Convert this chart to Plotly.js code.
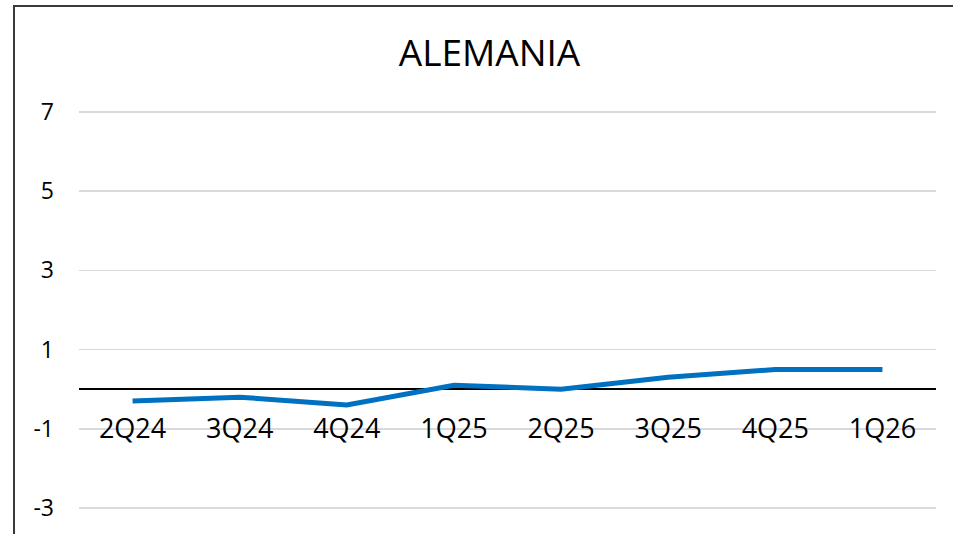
<!DOCTYPE html>
<html>
<head>
<meta charset="utf-8">
<script src="https://cdn.plot.ly/plotly-3.0.1.min.js"></script>
<style>
  html, body { margin: 0; padding: 0; background: #fff; }
  #chart { width: 953px; height: 534px; }
</style>
</head>
<body>
<div id="chart"></div>
<script>
// Data
const quarters = ['2Q24', '3Q24', '4Q24', '1Q25', '2Q25', '3Q25', '4Q25', '1Q26'];
const values = [-0.3, -0.2, -0.4, 0.1, 0.0, 0.3, 0.5, 0.5];
const yTicks = [-3, -1, 1, 3, 5, 7];
const chartTitle = 'ALEMANIA';

const W = 953, H = 534;
const M = { l: 79, r: 17, t: 108, b: 22 };
const yRange = [-3.1, 7.1];
const plotW = W - M.l - M.r, plotH = H - M.t - M.b;
const px2x = p => (p - M.l) / plotW;
const px2y = p => (H - M.b - p) / plotH;

const font = 'Open Sans, Noto Sans, sans-serif';

const trace = {
  x: quarters,
  y: values,
  type: 'scatter',
  mode: 'lines',
  line: { color: '#0070C0', width: 5 },
  hoverinfo: 'skip'
};

const layout = {
  width: W, height: H,
  margin: M,
  paper_bgcolor: '#fff',
  plot_bgcolor: '#fff',
  showlegend: false,
  title: {
    text: chartTitle,
    font: { family: font, size: 37, color: '#000' },
    xref: 'container', x: 489.5 / W, xanchor: 'center',
    yref: 'container', y: 1 - 53 / H, yanchor: 'middle'
  },
  xaxis: {
    type: 'category',
    anchor: 'free',
    position: (0 - yRange[0]) / (yRange[1] - yRange[0]),
    range: [-0.5, quarters.length - 0.5],
    showgrid: false, zeroline: false, showline: false,
    ticks: '',
    ticklabelstandoff: 21,
    tickfont: { family: font, size: 27, color: '#000' },
    fixedrange: true
  },
  yaxis: {
    range: yRange,
    tickmode: 'array',
    tickvals: yTicks,
    ticktext: yTicks.map(String),
    showgrid: true, gridcolor: '#d9d9d9', gridwidth: 1.5,
    zeroline: true, zerolinecolor: '#000', zerolinewidth: 1.5,
    showline: false, ticks: '',
    ticklabelstandoff: 24,
    tickfont: { family: font, size: 23, color: '#000' },
    fixedrange: true
  },
  shapes: [{
    type: 'rect', xref: 'paper', yref: 'paper',
    x0: px2x(14), x1: px2x(965),
    y0: px2y(545), y1: px2y(6),
    line: { color: '#3a3a3a', width: 2 },
    fillcolor: 'rgba(0,0,0,0)',
    layer: 'above'
  }]
};

Plotly.newPlot('chart', [trace], layout, { displayModeBar: false, staticPlot: true });
</script>
</body>
</html>
